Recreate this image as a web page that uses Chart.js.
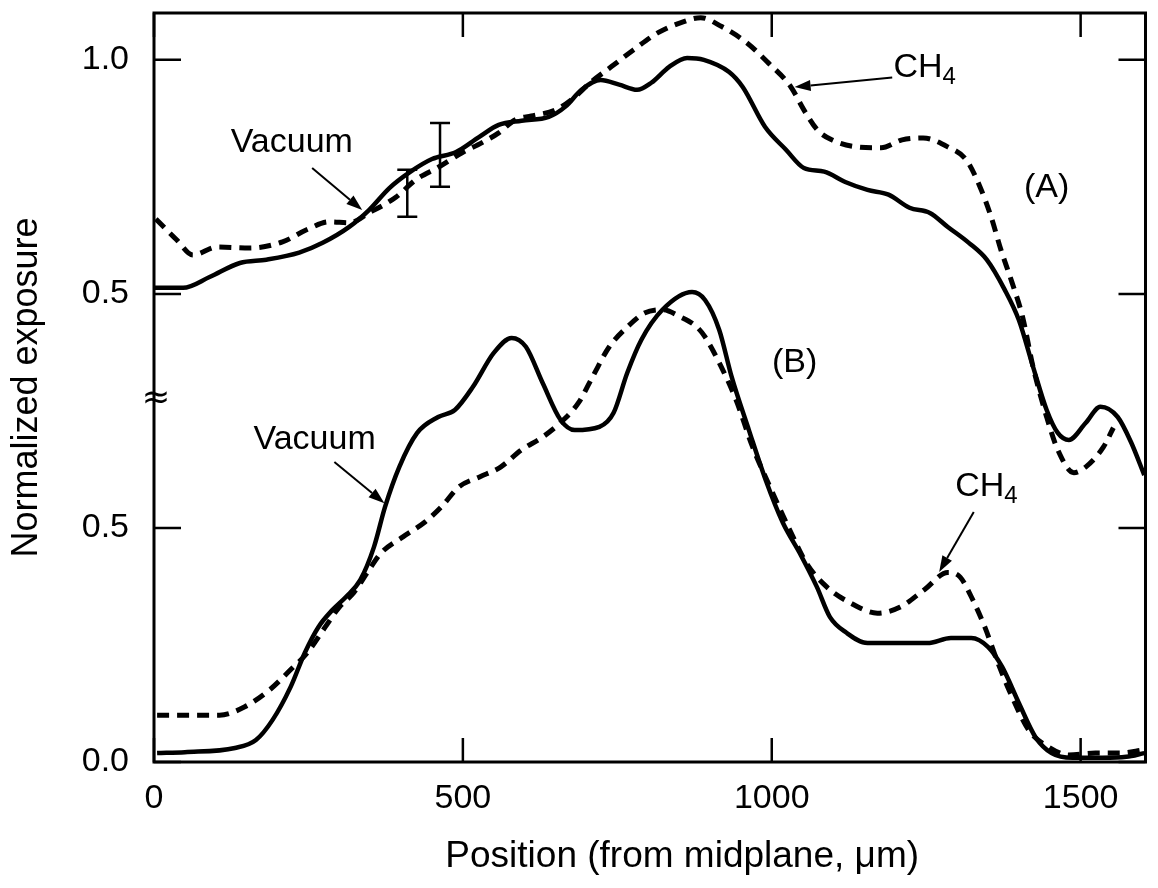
<!DOCTYPE html>
<html>
<head>
<meta charset="utf-8">
<title>Normalized exposure vs position</title>
<script src="https://cdn.jsdelivr.net/npm/chart.js@4.4.1/dist/chart.umd.min.js"></script>
<style>
  body { margin: 0; background: #fff; }
  #wrap { width: 1158px; height: 888px; }
</style>
</head>
<body>
<div id="wrap"><canvas id="exposureChart" width="1158" height="888"></canvas></div>
<script>
// Panel (A): positions (um) and normalized exposure
const aVacuumX = [0, 47, 90, 139, 182, 235, 273, 316, 348, 381, 413, 450, 489, 526, 558, 595, 639, 666, 692, 723, 753, 782, 805, 834, 863, 890, 931, 953, 989, 1023, 1052, 1085, 1119, 1155, 1189, 1223, 1256, 1285, 1319, 1348, 1377, 1400, 1423, 1445, 1463, 1481, 1508, 1532, 1560, 1582, 1603];
const aVacuumY = [0.513, 0.513, 0.536, 0.566, 0.573, 0.588, 0.609, 0.643, 0.679, 0.726, 0.759, 0.788, 0.803, 0.835, 0.861, 0.870, 0.878, 0.900, 0.936, 0.957, 0.947, 0.936, 0.951, 0.985, 1.004, 1.000, 0.974, 0.942, 0.857, 0.808, 0.769, 0.761, 0.739, 0.722, 0.712, 0.684, 0.673, 0.643, 0.609, 0.573, 0.509, 0.444, 0.344, 0.252, 0.203, 0.188, 0.224, 0.259, 0.237, 0.182, 0.113];

const aMethaneX = [3, 37, 63, 102, 155, 208, 247, 284, 316, 348, 392, 424, 461, 498, 531, 558, 585, 611, 650, 676, 708, 740, 776, 816, 852, 885, 919, 960, 994, 1031, 1052, 1074, 1097, 1137, 1177, 1211, 1245, 1285, 1315, 1337, 1355, 1371, 1389, 1406, 1423, 1445, 1463, 1489, 1508, 1537, 1553];
const aMethaneY = [0.660, 0.615, 0.583, 0.600, 0.598, 0.611, 0.637, 0.654, 0.652, 0.673, 0.707, 0.744, 0.771, 0.801, 0.823, 0.844, 0.872, 0.880, 0.893, 0.915, 0.953, 0.985, 1.021, 1.058, 1.079, 1.090, 1.071, 1.036, 0.994, 0.942, 0.893, 0.850, 0.829, 0.814, 0.812, 0.829, 0.833, 0.814, 0.786, 0.729, 0.665, 0.594, 0.524, 0.451, 0.344, 0.237, 0.167, 0.118, 0.130, 0.173, 0.214];

// Error bars on panel (A)
const errX = [410, 463];
const errLow = [0.665, 0.729];
const errHigh = [0.765, 0.865];

// Panel (B)
const bVacuumX = [5, 50, 131, 165, 192, 221, 244, 266, 289, 311, 334, 356, 374, 397, 426, 460, 487, 516, 550, 579, 602, 629, 658, 681, 721, 744, 766, 789, 823, 871, 892, 915, 935, 963, 990, 1018, 1045, 1073, 1094, 1121, 1155, 1208, 1252, 1290, 1323, 1350, 1373, 1400, 1427, 1453, 1487, 1535, 1574, 1603];
const bVacuumY = [0.019, 0.021, 0.030, 0.047, 0.090, 0.160, 0.233, 0.288, 0.325, 0.353, 0.389, 0.459, 0.545, 0.630, 0.703, 0.737, 0.752, 0.801, 0.874, 0.906, 0.887, 0.810, 0.731, 0.709, 0.716, 0.746, 0.831, 0.902, 0.966, 1.004, 0.987, 0.923, 0.823, 0.709, 0.603, 0.511, 0.447, 0.374, 0.310, 0.276, 0.254, 0.254, 0.254, 0.265, 0.265, 0.246, 0.203, 0.126, 0.053, 0.019, 0.009, 0.009, 0.011, 0.019];

const bMethaneX = [5, 50, 106, 147, 187, 221, 248, 277, 300, 323, 345, 368, 403, 437, 465, 494, 527, 561, 595, 629, 663, 687, 710, 737, 766, 794, 823, 852, 879, 892, 915, 942, 969, 997, 1029, 1056, 1089, 1127, 1171, 1208, 1247, 1285, 1305, 1323, 1345, 1366, 1389, 1416, 1448, 1481, 1524, 1563, 1602];
const bMethaneY = [0.100, 0.100, 0.100, 0.118, 0.154, 0.197, 0.233, 0.288, 0.331, 0.361, 0.404, 0.447, 0.481, 0.511, 0.545, 0.588, 0.609, 0.630, 0.667, 0.694, 0.731, 0.767, 0.823, 0.887, 0.929, 0.959, 0.966, 0.951, 0.929, 0.908, 0.853, 0.774, 0.673, 0.588, 0.496, 0.425, 0.374, 0.340, 0.318, 0.331, 0.368, 0.405, 0.395, 0.353, 0.288, 0.212, 0.139, 0.068, 0.032, 0.015, 0.019, 0.019, 0.026];

// Axis ticks (the y axis is broken: lower half is panel B, upper half panel A)
const xTickValues = [0, 500, 1000, 1500];
const yTickValues = [0, 0.5, 1.0, 1.5];
const yTickLabels = ["0.0", "0.5", "0.5", "1.0"];

// panel A sits 0.5 higher on the shared axis
const panelAOffset = 0.5;

const FONT = "'Liberation Sans', Arial, Helvetica, sans-serif";

// labels and arrows, in data units of the shared axis
const notes = [
  { text: "Vacuum", x: 223, y: 1.324 },
  { text: "Vacuum", x: 260, y: 0.688 },
  { text: "(A)", x: 1445, y: 1.226 },
  { text: "(B)", x: 1037, y: 0.853 },
];
const subNotes = [
  { text: "CH", sub: "4", x: 1197, y: 1.484 },
  { text: "CH", sub: "4", x: 1297, y: 0.588 },
];
const arrows = [
  { x1: 256, y1: 1.269, x2: 337, y2: 1.179 },
  { x1: 292, y1: 0.641, x2: 373, y2: 0.553 },
  { x1: 1195, y1: 1.462, x2: 1037, y2: 1.442 },
  { x1: 1327, y1: 0.534, x2: 1271, y2: 0.406 },
];

function toPoints(xs, ys, shift) {
  return xs.map((x, i) => ({ x: x, y: ys[i] + shift }));
}

function curve(points, dashed) {
  return {
    data: points,
    borderColor: "#000",
    borderWidth: dashed ? 5 : 4.5,
    borderDash: dashed ? [12, 8] : [],
    pointRadius: 0,
    cubicInterpolationMode: "monotone",
    fill: false,
  };
}

function errorBar(i) {
  return {
    data: [
      { x: errX[i], y: errLow[i] + panelAOffset },
      { x: errX[i], y: errHigh[i] + panelAOffset },
    ],
    borderColor: "#000",
    borderWidth: 2.5,
    pointStyle: "line",
    pointRadius: 10,
    pointBorderWidth: 2.5,
    pointBorderColor: "#000",
    tension: 0,
  };
}

function drawArrow(ctx, x1, y1, x2, y2) {
  const ang = Math.atan2(y2 - y1, x2 - x1);
  const len = 16, half = 5.5;
  const bx = x2 - Math.cos(ang) * len, by = y2 - Math.sin(ang) * len;
  ctx.beginPath();
  ctx.moveTo(x1, y1);
  ctx.lineTo(bx, by);
  ctx.stroke();
  ctx.beginPath();
  ctx.moveTo(x2, y2);
  ctx.lineTo(bx + Math.sin(ang) * half, by - Math.cos(ang) * half);
  ctx.lineTo(bx - Math.sin(ang) * half, by + Math.cos(ang) * half);
  ctx.closePath();
  ctx.fill();
}

// frame, inward ticks, axis break, annotations
const decorPlugin = {
  id: "decor",
  afterDatasetsDraw(chart) {
    const { ctx, chartArea: a, scales } = chart;
    const xs = scales.x, ys = scales.y;
    ctx.save();
    ctx.strokeStyle = "#000";
    ctx.fillStyle = "#000";
    ctx.lineWidth = 3;
    ctx.strokeRect(a.left, a.top, a.right - a.left, a.bottom - a.top);

    ctx.lineWidth = 2.5;
    ctx.beginPath();
    xTickValues.forEach((v) => {
      const px = xs.getPixelForValue(v);
      ctx.moveTo(px, a.bottom);
      ctx.lineTo(px, a.bottom - 24);
      ctx.moveTo(px, a.top);
      ctx.lineTo(px, a.top + 24);
    });
    yTickValues.forEach((v) => {
      const py = ys.getPixelForValue(v);
      ctx.moveTo(a.left, py);
      ctx.lineTo(a.left + 27, py);
      ctx.moveTo(a.right, py);
      ctx.lineTo(a.right - 27, py);
    });
    ctx.stroke();

    // axis break mark
    ctx.font = "34px 'DejaVu Sans'";
    ctx.textAlign = "center";
    ctx.textBaseline = "middle";
    ctx.fillText("\u2248", a.left + 2, ys.getPixelForValue(0.775));

    ctx.font = "34px " + FONT;
    notes.forEach((n) => {
      ctx.fillText(n.text, xs.getPixelForValue(n.x), ys.getPixelForValue(n.y));
    });
    subNotes.forEach((n) => {
      const px = xs.getPixelForValue(n.x), py = ys.getPixelForValue(n.y);
      ctx.textAlign = "left";
      ctx.font = "34px " + FONT;
      ctx.fillText(n.text, px, py);
      const w = ctx.measureText(n.text).width;
      ctx.font = "24px " + FONT;
      ctx.fillText(n.sub, px + w, py + 10);
    });

    ctx.lineWidth = 2;
    arrows.forEach((r) => {
      drawArrow(ctx, xs.getPixelForValue(r.x1), ys.getPixelForValue(r.y1),
        xs.getPixelForValue(r.x2), ys.getPixelForValue(r.y2));
    });

    // x axis title
    ctx.font = "37px " + FONT;
    ctx.textAlign = "center";
    ctx.textBaseline = "middle";
    ctx.fillText("Position (from midplane, \u03bcm)", xs.getPixelForValue(855), 857);
    ctx.restore();
  },
};

Chart.defaults.color = "#000";
Chart.defaults.font.family = FONT;

new Chart(document.getElementById("exposureChart").getContext("2d"), {
  type: "line",
  data: {
    datasets: [
      curve(toPoints(aVacuumX, aVacuumY, panelAOffset), false),
      curve(toPoints(aMethaneX, aMethaneY, panelAOffset), true),
      curve(toPoints(bVacuumX, bVacuumY, 0), false),
      curve(toPoints(bMethaneX, bMethaneY, 0), true),
      errorBar(0),
      errorBar(1),
    ],
  },
  options: {
    responsive: false,
    animation: false,
    layout: { padding: { top: 13, right: 6, left: 0, bottom: 0 } },
    plugins: { legend: { display: false }, tooltip: { enabled: false } },
    scales: {
      x: {
        type: "linear",
        min: 0,
        max: 1605,
        grid: { display: false, drawTicks: false },
        border: { display: false },
        afterBuildTicks: (scale) => {
          scale.ticks = xTickValues.map((v) => ({ value: v }));
        },
        afterFit: (scale) => {
          scale.height = 126;
          scale.paddingLeft = 0;
          scale.paddingRight = 0;
        },
        ticks: {
          font: { size: 34 },
          padding: 16,
          maxRotation: 0,
          callback: (value) => String(value),
        },
      },
      y: {
        type: "linear",
        min: 0,
        max: 1.6,
        grid: { display: false, drawTicks: false },
        border: { display: false },
        afterBuildTicks: (scale) => {
          scale.ticks = yTickValues.map((v) => ({ value: v }));
        },
        afterFit: (scale) => {
          scale.width = 154;
          scale.paddingTop = 0;
          scale.paddingBottom = 0;
        },
        ticks: {
          font: { size: 34 },
          padding: 25,
          callback: (value, index) => yTickLabels[index],
        },
        title: {
          display: true,
          text: "Normalized exposure",
          font: { size: 36 },
          padding: { top: 5, bottom: 0 },
        },
      },
    },
  },
  plugins: [decorPlugin],
});
</script>
</body>
</html>
